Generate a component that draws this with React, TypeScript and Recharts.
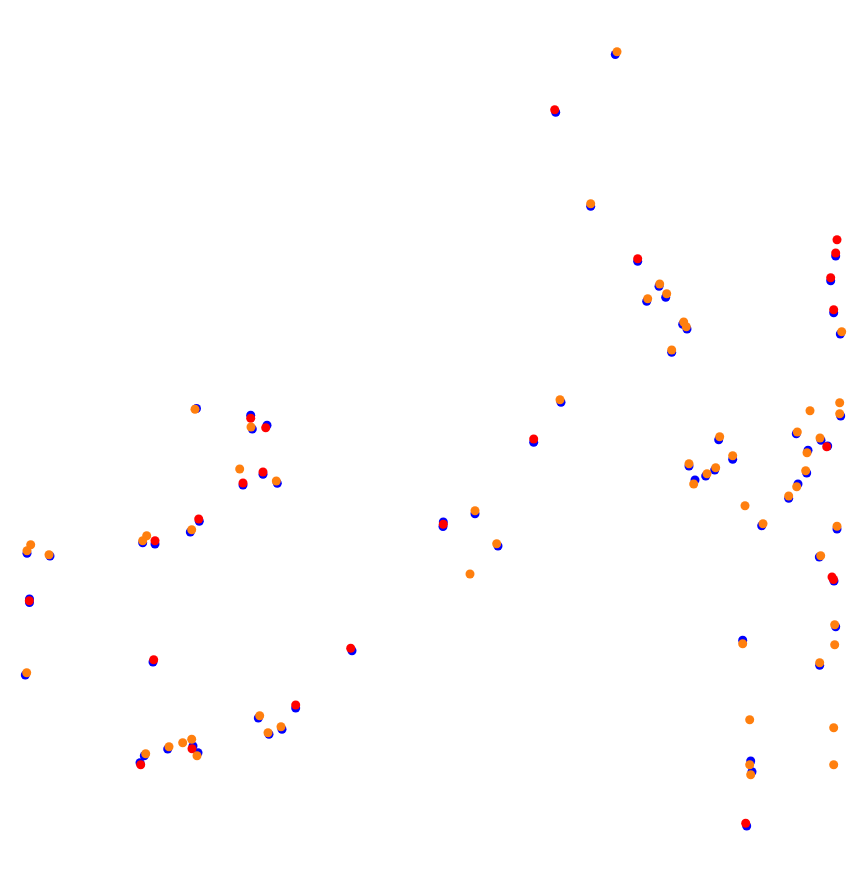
import React from "react";
import { ScatterChart, Scatter, XAxis, YAxis } from "recharts";

type Pt = { x: number; y: number };

const toPts = (list: number[][]): Pt[] => list.map(([x, y]) => ({ x, y }));

const BLUE_POINTS = toPts([
  [196.5, 408.5], [250.7, 415.3], [252.3, 429], [267, 425.3], [263, 474.3],
  [243, 485], [277.3, 483.3], [199.3, 521.3], [190.3, 532], [142.7, 542.7],
  [155, 544], [27, 553.3], [50, 556], [29.5, 599], [29.5, 602.5],
  [25.3, 675], [153, 662], [352, 650.7], [295.7, 708], [258.3, 718],
  [282, 729.3], [269, 734.3], [193, 746], [198, 752.7], [167.7, 749],
  [144.3, 755.7], [140, 762.7], [561, 402.3], [533.7, 442.3], [475, 513.7],
  [443.3, 522], [443, 526.5], [498, 546], [615.3, 54.5], [555.7, 112.3],
  [590.7, 206.3], [637.7, 261.3], [659, 286.3], [665.7, 297.3], [646.7, 301.3],
  [682.7, 324.3], [687, 329], [671.7, 352.3], [835.7, 256], [830.7, 280.7],
  [833.7, 312.7], [840.3, 334], [840.7, 416], [796.3, 433.7], [821, 440.3],
  [827.7, 446], [808, 450.3], [806.7, 473], [798, 484], [788.7, 498.3],
  [718.7, 439.7], [732.7, 459.3], [689, 466], [714.7, 470], [705.7, 476],
  [695, 480], [761.7, 525.7], [837, 529], [819.3, 557], [834, 581],
  [835.7, 626.7], [742.7, 640.3], [819.7, 665.3], [750.7, 761], [752, 771.7],
  [746.7, 826],
]);

const RED_POINTS = toPts([
  [250.7, 418.3], [265.7, 427.7], [263, 472], [243, 483], [198.7, 519],
  [155, 540.7], [29.3, 600.7], [153.7, 659.7], [350.7, 648.3], [295.7, 705],
  [192, 748.7], [140.7, 764.7], [533.7, 439], [443.3, 524.3], [554.7, 109.7],
  [637.7, 258.7], [837, 239.7], [835.7, 253], [830.7, 277.7], [833.7, 309.7],
  [826.7, 446.7], [832, 577], [833.5, 579.5], [745.7, 823.3],
]);

const ORANGE_POINTS = toPts([
  [195, 409.3], [251, 427], [239.7, 469], [276.3, 481], [191.7, 529.7],
  [146.7, 535.7], [142.7, 540.7], [30.7, 544.7], [27, 550.7], [49, 554.7],
  [26.7, 672.7], [259.7, 715.7], [281, 726.7], [268, 732.7], [191.7, 739.3],
  [182.7, 742.7], [197, 755.7], [169, 746.7], [145.7, 753.7], [560, 399.7],
  [475, 510.7], [496.7, 543.7], [470, 574], [617, 51.7], [590.7, 203.7],
  [659.7, 284], [666.7, 293.7], [647.7, 298.7], [683.7, 322], [686.3, 326.7],
  [671.7, 350], [841.7, 331.7], [839.7, 402.7], [810, 410.7], [839.7, 413.7],
  [797.3, 432], [820, 438], [807, 452.7], [805.7, 470.7], [796.7, 486.7],
  [788.7, 496], [719.7, 436.7], [732.7, 455.7], [689, 463.7], [715.7, 467.7],
  [707, 473.7], [693.7, 484], [745, 505.7], [763, 523.7], [837, 526.3],
  [820.7, 555.7], [834.7, 624.7], [834.7, 644.7], [742.7, 643.7], [819.7, 662.7],
  [749.7, 719.7], [833.7, 727.7], [749.7, 764.7], [750.7, 774.7], [833.7, 764.7],
]);

const dot = (color: string) => (props: any) => (
  <circle cx={props.cx} cy={props.cy} r={4.5} fill={color} />
);

export default function App() {
  return (
    <div style={{ position: "absolute", left: 0, top: 0, background: "#fff" }}>
      <ScatterChart
        width={858}
        height={872}
        margin={{ top: 0, right: 0, bottom: 0, left: 0 }}
      >
        <XAxis type="number" dataKey="x" domain={[0, 858]} hide />
        <YAxis type="number" dataKey="y" domain={[0, 872]} reversed hide />
        <Scatter data={BLUE_POINTS} shape={dot("#0000ff")} isAnimationActive={false} />
        <Scatter data={RED_POINTS} shape={dot("#ff0000")} isAnimationActive={false} />
        <Scatter data={ORANGE_POINTS} shape={dot("#ff7f0e")} isAnimationActive={false} />
      </ScatterChart>
    </div>
  );
}
